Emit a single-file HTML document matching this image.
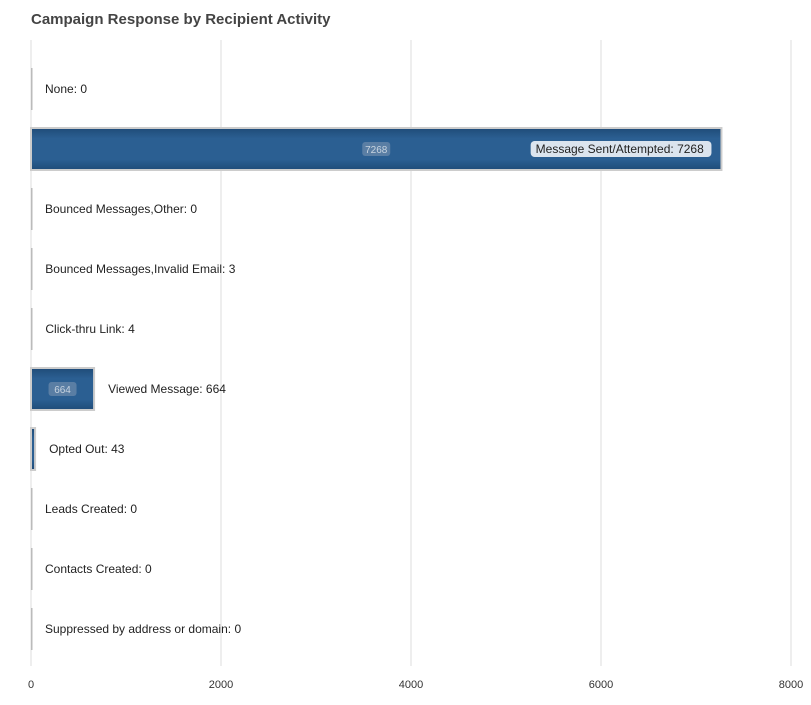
<!DOCTYPE html>
<html><head><meta charset="utf-8"><style>
body{margin:0;background:#fff;font-family:"Liberation Sans",Arial,sans-serif}
svg text{font-family:"Liberation Sans",Arial,sans-serif}
</style></head><body>
<svg id="c" width="811" height="700">
<text x="31" y="24" font-size="15" font-weight="bold" fill="#444">Campaign Response by Recipient Activity</text>
</svg>
<script>
const categories=["None","Message Sent/Attempted","Bounced Messages,Other","Bounced Messages,Invalid Email","Click-thru Link","Viewed Message","Opted Out","Leads Created","Contacts Created","Suppressed by address or domain"];
const values=[0,7268,0,3,4,664,43,0,0,0];
const ticks=[0,2000,4000,6000,8000];
const NS="http://www.w3.org/2000/svg";
const svg=document.getElementById('c');
const x0=31,x1=791,xmax=8000,top0=59,rowH=60,barH=42;
const xs=v=>x0+v/xmax*(x1-x0);
const yc=i=>top0+rowH*i+rowH/2;
function mk(t,a,p){const e=document.createElementNS(NS,t);for(const k in a)e.setAttribute(k,a[k]);(p||svg).appendChild(e);return e;}
ticks.forEach(t=>{
 const l=mk('line',{x1:xs(t),x2:xs(t),y1:40,y2:666,stroke:'#ddd','stroke-width':1});
 
 
 const tx=mk('text',{x:xs(t),y:688,'font-size':11,'text-anchor':'middle',fill:'#333'});
 tx.textContent=t;
 
 
});
const defs=mk('defs',{});
const g=mk('linearGradient',{id:'bg',x1:0,y1:0,x2:0,y2:1},defs);
mk('stop',{offset:'0','stop-color':'#1f4b78'},g);
mk('stop',{offset:'0.25','stop-color':'#2b5f92'},g);
mk('stop',{offset:'0.75','stop-color':'#2b5f92'},g);
mk('stop',{offset:'1','stop-color':'#1f4b78'},g);
categories.forEach((c,i)=>{
 const v=values[i],w=xs(v)-x0,y=yc(i)-barH/2;
 const r=mk('rect',{x:x0,y:y,width:Math.max(w,1.5),height:barH,fill:w>1.5?'url(#bg)':'#bbb',stroke:w>1.5?'#ccc':'none','stroke-width':2});
 
 
 const lbl=c+': '+v;
 if(w>400){
  const tw=lbl.length*6.1+10;
  const bx=x0+w-tw-10;
  const rr=mk('rect',{x:bx,y:yc(i)-8,width:tw,height:16,rx:4,fill:'#dbe4ee'});
  
  
  const t=mk('text',{x:bx+5,y:yc(i)+4,'font-size':12,fill:'#222'});
  t.textContent=lbl;
  
  
 } else {
  const t=mk('text',{x:x0+Math.max(w,0)+14,y:yc(i)+4,'font-size':12,fill:'#222'});
  t.textContent=lbl;
  
  
 }
 if(w>40){
  const cx=x0+w/2;
  const vb=mk('rect',{x:cx-14,y:yc(i)-7,width:28,height:14,rx:3,fill:'#5a7ea4'});
  
  
  const vt=mk('text',{x:cx,y:yc(i)+4,'font-size':10,'text-anchor':'middle',fill:'#c8d4e0'});
  vt.textContent=v;
  
  
 }
});
</script>
</body></html>
